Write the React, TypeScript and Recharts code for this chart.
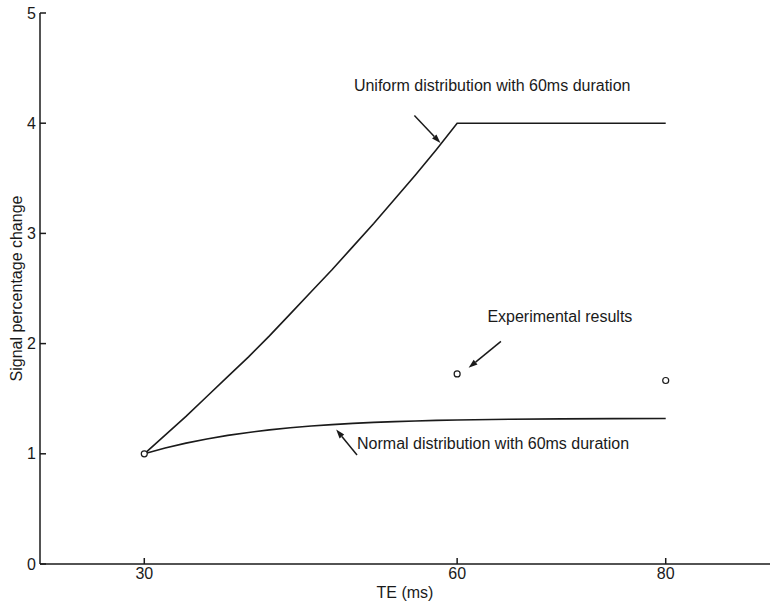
import { ComposedChart, Line, Scatter, XAxis, YAxis, ReferenceLine, ReferenceDot, Label } from "recharts";

// TE (ms) on x, signal percentage change on y
const teTicks = [30, 60, 80];
const signalTicks = [0, 1, 2, 3, 4, 5];

const uniformTE = [30, 32, 34, 36, 38, 40, 42, 44, 46, 48, 50, 52, 54, 56, 58, 60, 70, 80];
const uniformSignal = [1.0, 1.17, 1.34, 1.52, 1.7, 1.88, 2.07, 2.27, 2.47, 2.67, 2.88, 3.09, 3.31, 3.53, 3.76, 4.0, 4.0, 4.0];

const normalTE = [30, 32, 34, 36, 38, 40, 42, 44, 46, 48, 50, 52, 54, 56, 58, 60, 65, 70, 75, 80];
const normalSignal = [1.0, 1.052, 1.097, 1.135, 1.167, 1.194, 1.217, 1.236, 1.252, 1.265, 1.276, 1.285, 1.292, 1.298, 1.303, 1.307, 1.313, 1.317, 1.319, 1.32];

const expTE = [30, 60, 80];
const expSignal = [1.0, 1.725, 1.665];

const noteText = ["Uniform distribution with 60ms duration", "Experimental results", "Normal distribution with 60ms duration"];
const noteAt = [
  { x: 50.1, y: 4.34 },
  { x: 62.9, y: 2.25 },
  { x: 50.4, y: 1.09 },
];
const arrows = [
  [{ x: 55.9, y: 4.07 }, { x: 58.4, y: 3.82 }],
  [{ x: 64.2, y: 2.02 }, { x: 61.1, y: 1.78 }],
  [{ x: 50.4, y: 0.99 }, { x: 48.4, y: 1.22 }],
];

const uniformData = uniformTE.map((te, i) => ({ te, signal: uniformSignal[i] }));
const normalData = normalTE.map((te, i) => ({ te, signal: normalSignal[i] }));
const expData = expTE.map((te, i) => ({ te, signal: expSignal[i] }));

const ink = "#1a1a1a";
const font = "'Liberation Sans', Arial, sans-serif";

const Arrow = (p: any) => {
  const { x1, y1, x2, y2 } = p;
  const a = Math.atan2(y2 - y1, x2 - x1);
  const bx = x2 - 9 * Math.cos(a);
  const by = y2 - 9 * Math.sin(a);
  const w = 3;
  const pts = `${x2},${y2} ${bx + w * Math.sin(a)},${by - w * Math.cos(a)} ${bx - w * Math.sin(a)},${by + w * Math.cos(a)}`;
  return (
    <g>
      <line x1={x1} y1={y1} x2={bx} y2={by} stroke={ink} strokeWidth={1.5} />
      <polygon points={pts} fill={ink} />
    </g>
  );
};

const Hollow = (p: any) => <circle cx={p.cx} cy={p.cy} r={3} fill="#fff" stroke={ink} strokeWidth={1.2} />;

export default function App() {
  return (
    <div style={{ position: "absolute", left: 0, top: 0, background: "#fff" }}>
      <ComposedChart width={780} height={609} margin={{ top: 13, right: 10, left: 0, bottom: 0 }}>
        <XAxis
          dataKey="te"
          type="number"
          domain={[20, 90]}
          ticks={teTicks}
          allowDataOverflow
          stroke={ink}
          strokeWidth={1.5}
          tickSize={-6}
          tickMargin={10}
          height={45}
          tick={{ fill: ink, fontSize: 16, fontFamily: font }}
        >
          <Label
            content={({ viewBox }: any) => (
              <text x={viewBox.x + viewBox.width / 2} y={viewBox.y + 28} textAnchor="middle" dominantBaseline="central" fontSize={16} fontFamily={font} fill={ink}>
                TE (ms)
              </text>
            )}
          />
        </XAxis>
        <YAxis
          dataKey="signal"
          type="number"
          domain={[0, 5]}
          ticks={signalTicks}
          stroke={ink}
          strokeWidth={1.5}
          tickSize={-6}
          tickMargin={10}
          width={40}
          tick={{ fill: ink, fontSize: 16, fontFamily: font }}
        >
          <Label
            content={({ viewBox }: any) => {
              const cx = viewBox.x + 16;
              const cy = viewBox.y + viewBox.height / 2;
              return (
                <text x={cx} y={cy} transform={`rotate(-90 ${cx} ${cy})`} textAnchor="middle" dominantBaseline="central" fontSize={16} fontFamily={font} fill={ink}>
                  Signal percentage change
                </text>
              );
            }}
          />
        </YAxis>
        <Line data={uniformData} dataKey="signal" type="linear" stroke={ink} strokeWidth={1.6} dot={false} isAnimationActive={false} />
        <Line data={normalData} dataKey="signal" type="linear" stroke={ink} strokeWidth={1.6} dot={false} isAnimationActive={false} />
        <Scatter data={expData} dataKey="signal" shape={Hollow} isAnimationActive={false} />
        {arrows.map((seg, i) => (
          <ReferenceLine key={"a" + i} segment={seg} ifOverflow="visible" shape={Arrow} />
        ))}
        {noteText.map((t, i) => (
          <ReferenceDot
            key={"n" + i}
            x={noteAt[i].x}
            y={noteAt[i].y}
            r={1}
            ifOverflow="visible"
            shape={(p: any) => (
              <text x={p.cx} y={p.cy} textAnchor="start" dominantBaseline="central" fontSize={16} fontFamily={font} fill={ink}>
                {t}
              </text>
            )}
          />
        ))}
      </ComposedChart>
    </div>
  );
}
